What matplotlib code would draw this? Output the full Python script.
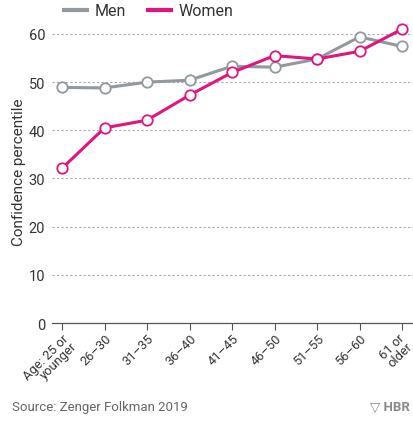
import matplotlib.pyplot as plt
from matplotlib.lines import Line2D

# data
age_groups = ["Age: 25 or\nyounger", "26–30", "31–35", "36–40", "41–45",
              "46–50", "51–55", "56–60", "61 or\nolder"]
men = [48.9, 48.8, 50.0, 50.4, 53.3, 53.1, 54.8, 59.4, 57.4]
women = [32.1, 40.5, 42.1, 47.3, 52.0, 55.5, 54.8, 56.4, 61.0]
y_ticks = [0, 10, 20, 30, 40, 50, 60]

men_color = "#8f999f"
women_color = "#e0157f"
text_color = "#333333"

plt.rcParams["font.family"] = ["Roboto", "DejaVu Sans"]

fig = plt.figure(figsize=(4.14, 4.31), dpi=100)
ax = fig.add_axes([52 / 414, 1 - 324 / 431, 1 - 52 / 414, (324 - 20.5) / 431])

x = list(range(len(age_groups)))
ax.plot(x, men, color=men_color, lw=2.2, marker="o", ms=7.5,
        mfc="white", mec=men_color, mew=1.3, zorder=3)
ax.plot(x, women, color=women_color, lw=2.2, marker="o", ms=7.5,
        mfc="white", mec=women_color, mew=1.3, zorder=4)

ax.set_xlim(-0.235, 8.28)
ax.set_ylim(0, 63)
ax.set_yticks(y_ticks)
ax.set_xticks(x)
ax.set_xticklabels([])

# rotated category labels; the last one is nudged left to stay inside
for i, lab in enumerate(age_groups):
    dx = -3 if i == len(age_groups) - 1 else 0
    ax.annotate(lab, xy=(i, 0), xycoords=("data", "axes fraction"),
                xytext=(dx, -6), textcoords="offset points",
                rotation=45, ha="right", va="top", rotation_mode="anchor",
                fontsize=9.3, color=text_color, linespacing=0.85)

ax.tick_params(axis="y", length=0, pad=5, labelsize=10.5, labelcolor=text_color)
ax.tick_params(axis="x", length=5, width=0.8, color="#555555")

for v in y_ticks[1:]:
    ax.axhline(v, color="#aaaaaa", lw=0.8, ls=(0, (2, 2)), zorder=1)

for s in ["left", "right", "top"]:
    ax.spines[s].set_visible(False)
ax.spines["bottom"].set_color("#555555")
ax.spines["bottom"].set_linewidth(0.9)

ax.set_ylabel("Confidence percentile", fontsize=11, color=text_color)
ax.yaxis.set_label_coords(-26 / 362, 0.5)

# legend above the plot
handles = [Line2D([], [], color=men_color, lw=3),
           Line2D([], [], color=women_color, lw=3)]
fig.legend(handles, ["Men", "Women"], loc="center left",
           bbox_to_anchor=(50 / 414, 1 - 12 / 431), ncol=2, frameon=False,
           fontsize=11.5, handlelength=1.4, handletextpad=0.5,
           columnspacing=1.4, labelcolor=text_color)

fig.text(12 / 414, 1 - 408 / 431, "Source: Zenger Folkman 2019",
         fontsize=9.5, color="#666666", va="center")
fig.text(410 / 414, 1 - 408 / 431, "\u25bd HBR", fontsize=9.5, color="#8a8a8a",
         fontweight="bold", va="center", ha="right")

fig.savefig("out.png", dpi=100)
